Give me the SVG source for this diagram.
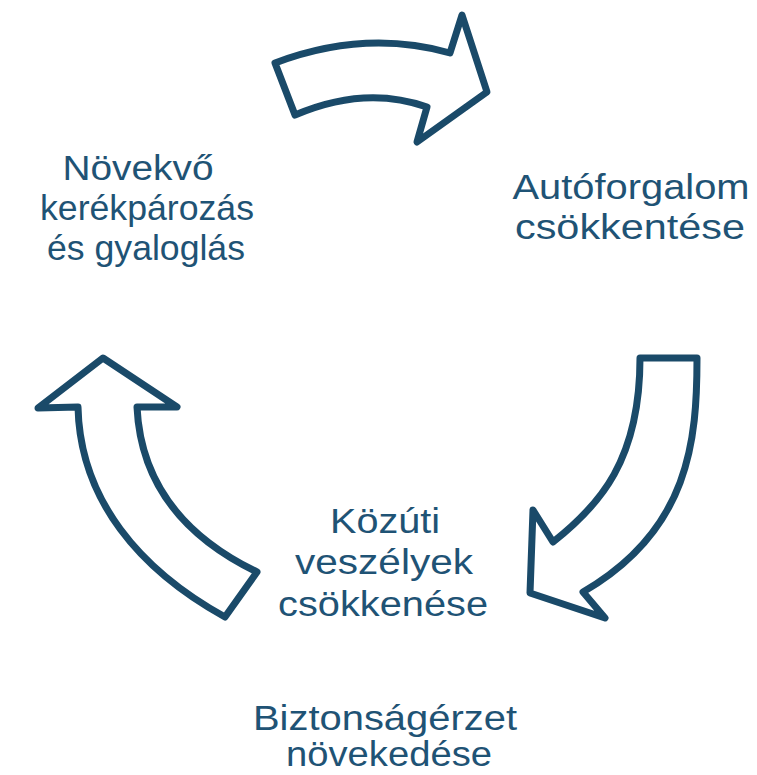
<svg xmlns="http://www.w3.org/2000/svg" width="757" height="775" viewBox="0 0 757 775">
<style>
.arrow{fill:#ffffff;stroke:#1a4a69;stroke-width:7;stroke-linejoin:round}
.lbl{font-family:"Liberation Sans",Arial,sans-serif;font-size:35px;fill:#1f5375;text-anchor:middle}
</style>
<rect width="757" height="775" fill="#ffffff"/>
<g id="connectors">
<path class="arrow" d="M275,63 Q365,29 450,53 L462,15 L487,92 L417,142 L427,107 Q365,85 295,115 Z"/>
<path class="arrow" d="M640,358 L697,358 C697,440 690,530 583,592 L605,618 L530,593 L533,510 L553,542 C600,505 640,460 640,358 Z"/>
<path class="arrow" d="M103,358 L177,407 L137,407 C140,470 170,530 257,572 L225,617 C140,570 80,500 78,407 L38,408 Z"/>
</g>
<g id="node-novekvo">
<text class="lbl" x="138" y="180" textLength="151" lengthAdjust="spacingAndGlyphs">Növekvő</text>
<text class="lbl" x="147" y="220" textLength="214" lengthAdjust="spacingAndGlyphs">kerékpározás</text>
<text class="lbl" x="146" y="260" textLength="198" lengthAdjust="spacingAndGlyphs">és gyaloglás</text>
</g>
<g id="node-autoforgalom">
<text class="lbl" x="631" y="199" textLength="237" lengthAdjust="spacingAndGlyphs">Autóforgalom</text>
<text class="lbl" x="630" y="239" textLength="230" lengthAdjust="spacingAndGlyphs">csökkentése</text>
</g>
<g id="node-kozuti">
<text class="lbl" x="385" y="533" textLength="110" lengthAdjust="spacingAndGlyphs">Közúti</text>
<text class="lbl" x="384" y="574" textLength="178" lengthAdjust="spacingAndGlyphs">veszélyek</text>
<text class="lbl" x="383" y="616" textLength="210" lengthAdjust="spacingAndGlyphs">csökkenése</text>
</g>
<g id="node-biztonsag">
<text class="lbl" x="385" y="730" textLength="264" lengthAdjust="spacingAndGlyphs">Biztonságérzet</text>
<text class="lbl" x="389" y="766" textLength="206" lengthAdjust="spacingAndGlyphs">növekedése</text>
</g>
</svg>
